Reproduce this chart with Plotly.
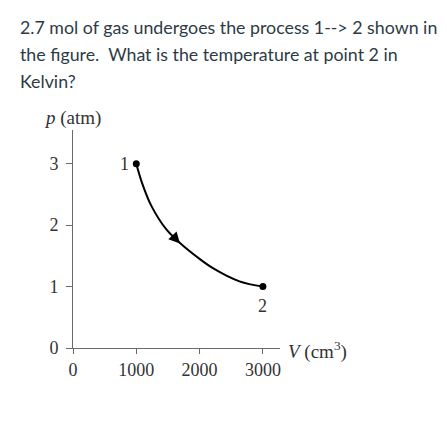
import plotly.graph_objects as go

# ---- data ----
volume_cm3 = [1000, 1090, 1240, 1475, 1690, 1950, 2210, 2630, 3000]
pressure_atm = [3.0, 2.69, 2.31, 1.93, 1.71, 1.49, 1.30, 1.085, 1.0]
state_labels = ["1", "2"]
state_volume = [1000, 3000]
state_pressure = [3.0, 1.0]
x_tick_vals = [0, 1000, 2000, 3000]
x_tick_text = ["0", "1000", "2000", "3000"]
y_tick_vals = [0, 1, 2, 3]
y_tick_text = ["0", "1", "2", "3"]
arrow_tip = (1690, 1.70)
arrow_tail = (1610, 1.79)
question_lines = [
    "2.7 mol of gas undergoes the process 1--> 2 shown in",
    "the figure.  What is the temperature at point 2 in",
    "Kelvin?",
]

W, H = 447, 425
L, R, T, B = 73, 167, 130, 77
plot_h = H - T - B

def py(pixel_y):
    return (H - B - pixel_y) / plot_h

SERIF = "Liberation Serif, Times New Roman, serif"
AXIS_GREY = "#6a6a6a"
TEXT_GREY = "#333333"

fig = go.Figure()
fig.add_trace(go.Scatter(
    x=volume_cm3, y=pressure_atm, mode="lines",
    line=dict(color="black", width=2, shape="spline"),
    hoverinfo="skip", showlegend=False,
))
fig.add_trace(go.Scatter(
    x=state_volume, y=state_pressure, mode="markers",
    marker=dict(color="black", size=7),
    hoverinfo="skip", showlegend=False,
))

annotations = []
for i, line in enumerate(question_lines):
    annotations.append(dict(
        text=line, xref="paper", yref="paper",
        x=(18 - L) / (W - L - R), y=py(27 + 27 * i),
        xanchor="left", yanchor="middle", showarrow=False,
        font=dict(family="Lato, sans-serif", size=17.8, color="#2d3b45"),
    ))

annotations.append(dict(
    text="<i>p</i> (atm)", xref="paper", yref="paper",
    x=(42 - L) / (W - L - R), y=py(118),
    xanchor="left", yanchor="middle", showarrow=False,
    font=dict(family=SERIF, size=19, color=TEXT_GREY),
))
annotations.append(dict(
    text="<i>V</i> (cm<sup>3</sup>)", xref="paper", yref="paper",
    x=(286 - L) / (W - L - R), y=py(350),
    xanchor="left", yanchor="middle", showarrow=False,
    font=dict(family=SERIF, size=19, color=TEXT_GREY),
))
# state labels
annotations.append(dict(
    text=state_labels[0], x=state_volume[0], y=state_pressure[0],
    xref="x", yref="y", xanchor="right", yanchor="middle",
    xshift=-5, showarrow=False,
    font=dict(family=SERIF, size=18, color=TEXT_GREY),
))
annotations.append(dict(
    text=state_labels[1], x=state_volume[1], y=state_pressure[1],
    xref="x", yref="y", xanchor="center", yanchor="top",
    yshift=-7, showarrow=False,
    font=dict(family=SERIF, size=18, color=TEXT_GREY),
))
# direction arrow
annotations.append(dict(
    x=arrow_tip[0], y=arrow_tip[1], ax=arrow_tail[0], ay=arrow_tail[1],
    xref="x", yref="y", axref="x", ayref="y", text="",
    showarrow=True, arrowhead=2, arrowsize=1.4, arrowwidth=1.6,
    arrowcolor="black", standoff=0,
))

fig.update_layout(
    width=W, height=H,
    margin=dict(l=L, r=R, t=T, b=B, pad=0, autoexpand=False),
    paper_bgcolor="white", plot_bgcolor="white",
    annotations=annotations,
    xaxis=dict(
        range=[0, 3270], showgrid=False, zeroline=False,
        showline=True, linecolor=AXIS_GREY, linewidth=1,
        ticks="outside", ticklen=5, tickcolor=AXIS_GREY,
        tickvals=x_tick_vals, ticktext=x_tick_text,
        tickfont=dict(family=SERIF, size=18, color=TEXT_GREY),
        fixedrange=True,
    ),
    yaxis=dict(
        range=[0, 3.55], showgrid=False, zeroline=False,
        showline=True, linecolor=AXIS_GREY, linewidth=1,
        ticks="outside", ticklen=6, tickcolor=AXIS_GREY,
        tickvals=y_tick_vals, ticktext=y_tick_text,
        tickfont=dict(family=SERIF, size=18, color=TEXT_GREY),
        ticklabelstandoff=4,
        fixedrange=True,
    ),
)

fig.write_html(
    "out.html",
    config={"displayModeBar": False},
    post_script="document.body.style.margin='0';document.body.style.overflow='hidden';",
)
